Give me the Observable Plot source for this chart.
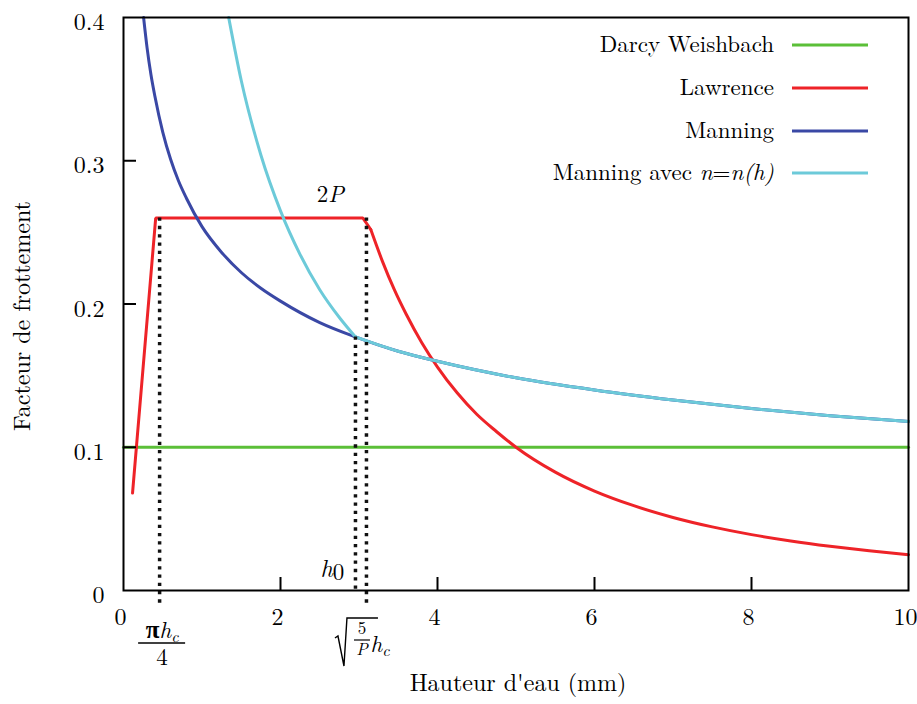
<!DOCTYPE html>
<html><head><meta charset="utf-8">
<script src="https://cdn.jsdelivr.net/npm/d3@7"></script>
<script src="https://cdn.jsdelivr.net/npm/@observablehq/plot@0.6"></script>
<style>body{margin:0;background:#fff;}</style>
</head><body><div id="chart"></div>
<script>
// ---- data ----
const xTicks = [0, 2, 4, 6, 8, 10];
const yTicks = [0, 0.1, 0.2, 0.3, 0.4];
const innerXTicks = [2, 4, 6, 8];
const innerYTicks = [0.1, 0.2, 0.3];

const darcyX = [0, 10];
const darcyY = [0.1, 0.1];

const lawrenceRiseX = [0.115, 0.41, 3.05, 3.15];
const lawrenceRiseY = [0.068, 0.26, 0.26, 0.252];
const lawrenceFallX = [3.15, 3.3, 3.45, 3.6, 3.8, 4, 4.25, 4.5, 4.75, 5, 5.5, 6, 6.5, 7, 7.5, 8, 8.5, 9, 9.5, 10];
const lawrenceFallY = [0.252, 0.2296, 0.21, 0.193, 0.173, 0.156, 0.138, 0.123, 0.111, 0.1, 0.0826, 0.0694, 0.0592, 0.051, 0.0444, 0.039, 0.0346, 0.0309, 0.0277, 0.025];

const manningX = [0.256, 0.3, 0.35, 0.4, 0.5, 0.6, 0.7, 0.8, 1.0, 1.25, 1.5, 1.75, 2, 2.5, 2.955, 3.5, 4, 5, 6, 7, 8, 9, 10];
const manningY = [0.4, 0.379, 0.360, 0.345, 0.320, 0.301, 0.286, 0.274, 0.254, 0.236, 0.222, 0.211, 0.202, 0.187, 0.177, 0.167, 0.160, 0.1485, 0.140, 0.133, 0.127, 0.122, 0.118];

const manningNhX = [1.34, 1.5, 1.75, 2, 2.25, 2.5, 2.75, 2.955];
const manningNhY = [0.4, 0.356, 0.304, 0.265, 0.2345, 0.210, 0.1906, 0.177];

const dottedX = [0.46, 2.955, 3.095];
const dottedTop = [0.26, 0.177, 0.26];
const dottedBottom = [-0.0105, 0, -0.0105];

const seriesNames = ["Darcy Weishbach", "Lawrence", "Manning", "Manning avec n=n(h)"];
const seriesColors = ["#5bbf38", "#ee2328", "#3a48a5", "#6ccad9"];

const xLabel = "Hauteur d'eau (mm)";
const yLabel = "Facteur de frottement";

// ---- tables ----
const toRows = (xs, ys) => xs.map((x, i) => ({x, y: ys[i]}));
const darcy = toRows(darcyX, darcyY);
const lawRise = toRows(lawrenceRiseX, lawrenceRiseY);
const lawFall = toRows(lawrenceFallX, lawrenceFallY);
const manning = toRows(manningX, manningY);
const manningNhUpper = toRows(manningNhX, manningNhY);
const manningNhLower = manning.filter(d => d.x >= 2.955);
const dotted = dottedX.map((x, i) => ({x, y1: dottedTop[i], y2: dottedBottom[i]}));

const W = 917, H = 704;
const FONT = "Latin Modern Roman";

const plot = Plot.plot({
  width: W, height: H,
  marginLeft: 123, marginRight: 9, marginTop: 17, marginBottom: 114,
  x: {domain: [0, 10]},
  y: {domain: [0, 0.4]},
  style: {fontSize: "23px", background: "white", color: "black", overflow: "visible"},
  marks: [
    Plot.line(darcy, {x: "x", y: "y", stroke: seriesColors[0], strokeWidth: 3}),
    Plot.line(lawRise, {x: "x", y: "y", stroke: seriesColors[1], strokeWidth: 3, strokeLinejoin: "miter"}),
    Plot.line(lawFall, {x: "x", y: "y", stroke: seriesColors[1], strokeWidth: 3, curve: "monotone-x"}),
    Plot.line(manning, {x: "x", y: "y", stroke: seriesColors[2], strokeWidth: 3, curve: "monotone-x"}),
    Plot.line(manningNhUpper, {x: "x", y: "y", stroke: seriesColors[3], strokeWidth: 3, curve: "monotone-x"}),
    Plot.line(manningNhLower, {x: "x", y: "y", stroke: seriesColors[3], strokeWidth: 3, curve: "monotone-x"}),
    Plot.ruleX(dotted, {x: "x", y1: "y1", y2: "y2", stroke: "#111", strokeWidth: 3.5, strokeDasharray: "3.3,5"}),
    Plot.frame({stroke: "black", strokeWidth: 2}),
    Plot.ruleX(innerXTicks, {insetTop: 573 - 13, stroke: "black", strokeWidth: 2}),
    Plot.ruleY(innerYTicks, {insetRight: 785 - 13, stroke: "black", strokeWidth: 2}),
    Plot.axisX(xTicks, {tickSize: 0, tickPadding: 17, label: null, dx: -3, fontFamily: FONT, fontSize: 24, fontVariant: "normal", tickFormat: d => String(d)}),
    Plot.axisY(yTicks, {tickSize: 0, tickPadding: 19, label: null, dy: 5, fontFamily: FONT, fontSize: 24, fontVariant: "normal", tickFormat: d => d === 0 ? "0" : d.toFixed(1)}),
    Plot.text([xLabel], {frameAnchor: "bottom", dy: 100, dx: 2, text: d => d, textAnchor: "middle", fontSize: 24, fontFamily: FONT}),
    Plot.text([yLabel], {frameAnchor: "left", dx: -101, dy: 12, rotate: -90, text: d => d, textAnchor: "middle", fontSize: 24, fontFamily: FONT})
  ]
});

document.getElementById("chart").appendChild(plot);

const sx = plot.scale("x").apply, sy = plot.scale("y").apply;
const svg = d3.select(plot);
const g = svg.append("g").attr("font-family", FONT).attr("font-size", 23).attr("fill", "black");

// legend
const legX = 774, legLine0 = 792, legLine1 = 868;
const legRows = [45, 88, 131, 173];
seriesNames.forEach((name, i) => {
  const t = g.append("text").attr("x", legX).attr("y", legRows[i] + 6.5).attr("text-anchor", "end");
  if (name.includes("n=n(h)")) {
    t.append("tspan").text("Manning avec ");
    t.append("tspan").attr("font-style", "italic").text("n");
    t.append("tspan").text("=");
    t.append("tspan").attr("font-style", "italic").text("n(h)");
  } else t.text(name);
  g.append("line").attr("x1", legLine0).attr("x2", legLine1).attr("y1", legRows[i]).attr("y2", legRows[i])
    .attr("stroke", seriesColors[i]).attr("stroke-width", 3);
});

// "2P" annotation
{
  const t = g.append("text").attr("x", sx(2.64)).attr("y", sy(0.26) - 16).attr("text-anchor", "middle");
  t.append("tspan").text("2");
  t.append("tspan").attr("font-style", "italic").text("P");
}
// "h0" annotation
{
  const x0 = sx(2.95) - 28, y0 = sy(0) - 13;
  const t = g.append("text").attr("x", x0).attr("y", y0);
  t.append("tspan").attr("font-style", "italic").attr("font-size", 24).text("h");
  t.append("tspan").attr("x", x0 + 12).attr("y", y0 + 3).text("0");
}
// pi h_c / 4 under first dotted line (one text element)
{
  const cx = sx(0.46) + 3;
  const t = g.append("text").attr("x", cx).attr("y", sy(0) + 48).attr("text-anchor", "middle");
  t.append("tspan").attr("font-weight", "bold").attr("font-size", 25).text("π");
  t.append("tspan").attr("font-style", "italic").text("h");
  t.append("tspan").attr("font-style", "italic").attr("font-size", 16).attr("dy", 4).text("c");
  t.append("tspan").attr("x", cx).attr("y", sy(0) + 75).text("4");
  g.append("line").attr("x1", cx - 24).attr("x2", cx + 23).attr("y1", sy(0) + 53).attr("y2", sy(0) + 53)
    .attr("stroke", "black").attr("stroke-width", 1.6);
}
// sqrt(5/P) h_c under third dotted line
{
  const base = sy(0);
  const x0 = sx(3.095) - 31;
  g.append("path")
    .attr("d", `M${x0},${base + 48} L${x0 + 3},${base + 46} L${x0 + 9},${base + 76} L${x0 + 12},${base + 28} L${x0 + 43},${base + 28}`)
    .attr("fill", "none").attr("stroke", "black").attr("stroke-width", 1.4);
  const fx = x0 + 27;
  const f = g.append("text").attr("x", fx).attr("y", base + 44).attr("text-anchor", "middle").attr("font-size", 17);
  f.append("tspan").text("5");
  f.append("tspan").attr("x", fx).attr("y", base + 65).attr("font-style", "italic").text("P");
  g.append("line").attr("x1", fx - 8).attr("x2", fx + 8).attr("y1", base + 50).attr("y2", base + 50)
    .attr("stroke", "black").attr("stroke-width", 1.2);
  const t = g.append("text").attr("x", x0 + 45).attr("y", base + 62).attr("font-style", "italic");
  t.append("tspan").text("h");
  t.append("tspan").attr("font-size", 16).attr("dy", 4).text("c");
}
</script>
</body></html>
